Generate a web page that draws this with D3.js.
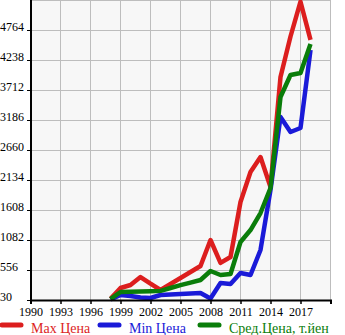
<!DOCTYPE html>
<html><head><meta charset="utf-8">
<script src="https://cdn.jsdelivr.net/npm/d3@7"></script>
<style>
html,body{margin:0;padding:0;background:#fff;}
svg{display:block;}
</style>
</head><body>
<svg id="c" width="345" height="335"></svg>
<script>
const years = [1998,1999,2000,2001,2002,2003,2004,2005,2006,2007,2008,2009,2010,2011,2012,2013,2014,2015,2016,2017,2018];
const maxPrice = [50,240,293,433,316,205,310,415,520,626,1082,680,784,1748,2274,2537,2011,3940,4650,5260,4590];
const minPrice = [40,118,100,75,65,118,126,135,144,153,55,328,310,503,468,907,1959,3238,2975,3046,4413];
const avgPrice = [45,170,175,180,185,190,240,290,335,381,538,468,486,1047,1257,1555,1994,3589,3975,4010,4518];
const yTicks = [30,556,1082,1608,2134,2660,3186,3712,4238,4764];
const xTicks = [1990,1993,1996,1999,2002,2005,2008,2011,2014,2017];
const seriesNames = ["Max Цена","Min Цена","Сред.Цена, т.йен"];
const seriesColors = ["#dc1e1e","#1a1ad8","#0a7d0a"];

const svg = d3.select("#c");
const x = d3.scaleLinear().domain([1990,2020]).range([30.5,330.5]);
const y = d3.scaleLinear().domain([30,5290]).range([300,0]);

// plot background
svg.append("rect").attr("x",30.5).attr("y",0).attr("width",300).attr("height",300).attr("fill","#f7f7f7");

// grid
const gridX = xTicks.concat([2020]);
svg.append("g").selectAll("line").data(gridX).join("line")
  .attr("x1",d=>x(d)).attr("x2",d=>x(d)).attr("y1",0).attr("y2",300)
  .attr("stroke","#bdbdbd").attr("stroke-width",1);
const gridY = yTicks.concat([5290]);
svg.append("g").selectAll("line").data(gridY).join("line")
  .attr("x1",30.5).attr("x2",330.5).attr("y1",d=>Math.round(y(d))+0.5).attr("y2",d=>Math.round(y(d))+0.5)
  .attr("stroke","#bdbdbd").attr("stroke-width",1);

// series
const series = [maxPrice,minPrice,avgPrice];
const line = d3.line().x((d,i)=>x(years[i])).y(d=>y(d));
const plot = svg.append("g");
series.forEach((s,k)=>{
  plot.append("path").datum(s).attr("d",line).attr("fill","none")
    .attr("stroke",seriesColors[k]).attr("stroke-width",4.5).attr("stroke-linejoin","round");
});

// axes
const xAxis = svg.append("g").attr("transform","translate(0,300)")
  .call(d3.axisBottom(x).tickValues(gridX).tickSize(4).tickFormat(d=>d===2020?"":d));
xAxis.select(".domain").attr("stroke","#000").attr("stroke-width",2);
xAxis.selectAll(".tick line").attr("stroke","#000").attr("stroke-width",1.5);
xAxis.selectAll(".tick text").attr("font-family","'Liberation Serif',serif").attr("font-size",12).attr("fill","#000");

svg.append("line").attr("x1",31).attr("x2",31).attr("y1",0).attr("y2",301).attr("stroke","#000").attr("stroke-width",2);
const yg = svg.append("g");
yg.selectAll("line").data(yTicks).join("line")
  .attr("x1",27).attr("x2",31).attr("y1",d=>Math.round(y(d))+0.5).attr("y2",d=>Math.round(y(d))+0.5)
  .attr("stroke","#000").attr("stroke-width",1);
yg.selectAll("text").data(yTicks).join("text")
  .attr("x",0).attr("y",d=>y(d)+1)
  .attr("font-family","'Liberation Serif',serif").attr("font-size",12).attr("fill","#000")
  .text(d=>d);

// legend
const legX = [0,98,198];
const lg = svg.append("g");
seriesNames.forEach((n,k)=>{
  lg.append("line").attr("x1",legX[k]+2).attr("x2",legX[k]+21).attr("y1",325).attr("y2",325)
    .attr("stroke",seriesColors[k]).attr("stroke-width",5).attr("stroke-linecap","round");
  lg.append("text").attr("x",legX[k]+31).attr("y",333).attr("font-family","'Liberation Serif',serif")
    .attr("font-size",14).attr("fill",seriesColors[k]).text(n);
});
</script>
</body></html>
